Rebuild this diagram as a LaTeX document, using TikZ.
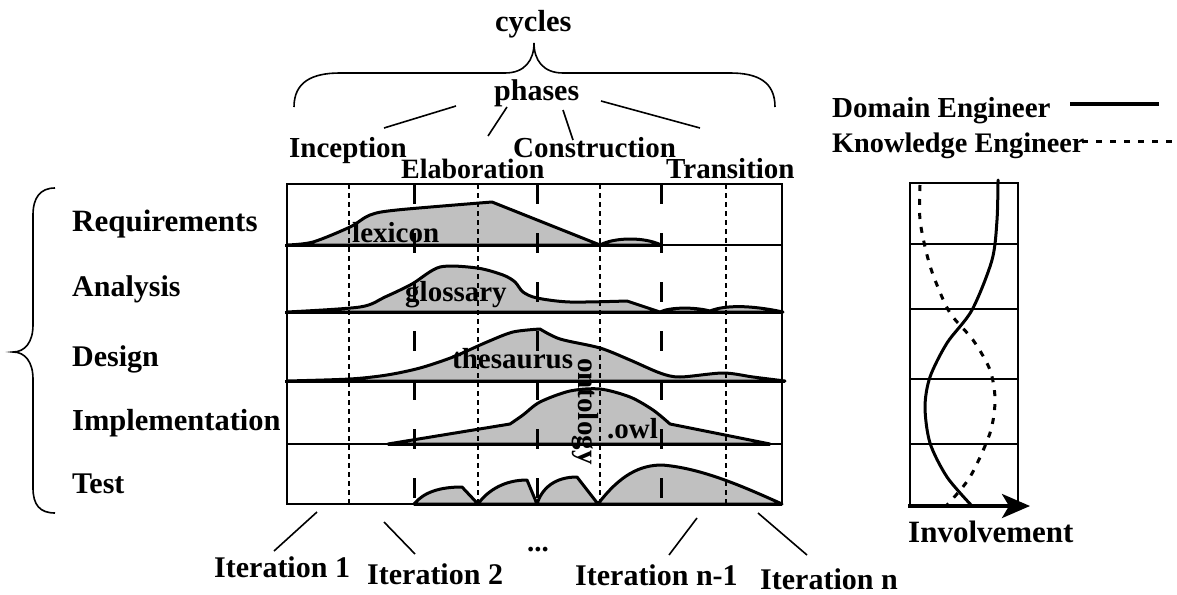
\documentclass[tikz,border=0pt]{standalone}
\usepackage{fontspec}
\setmainfont{Liberation Serif}
\usetikzlibrary{arrows.meta}
\definecolor{profgray}{RGB}{192,192,192}
\begin{document}
\begin{tikzpicture}[x=1pt,y=-1pt,
  fs/.style={font=\fontsize{#1}{#1}\selectfont\bfseries},
  lbl/.style={inner sep=0pt, anchor=base west, fs=29},
  thinln/.style={line width=1.4pt},
  prof/.style={line width=3pt, fill=profgray, line join=round},
  itdash/.style={line width=3pt, dash pattern=on 20pt off 29pt},
  itdot/.style={line width=1.3pt, dash pattern=on 4.5pt off 4.5pt},
  conn/.style={line width=1.6pt},
  brace/.style={line width=1.6pt},
  domline/.style={line width=3pt, line cap=round},
  knowline/.style={line width=3pt, dash pattern=on 6pt off 8pt},
]
\useasboundingbox (0,0) rectangle (1177,594);

% ---------- profiles ----------
% Requirements
\filldraw[prof] plot[smooth] coordinates {(287,245)(313,242)(350,227)(370,215)(397,210)(492,202)} -- (600,245) -- cycle;
\filldraw[prof] (600,245) .. controls (615,237) and (645,237) .. (661,245) -- cycle;
% Analysis
\filldraw[prof] plot[smooth] coordinates {(287,312)(360,307)(385,297)(412,284)(440,267)(477,268)(503,275)(515,282)(523,292)(537,298)(570,302)(627,301)} -- (660,312) .. controls (670,307) and (695,307) .. (710,311) .. controls (725,305) and (750,305) .. (783,312) -- cycle;
% Design
\filldraw[prof] plot[smooth] coordinates {(287,381)(350,379)(387,375)(420,368)(453,357)(487,342)(513,332)(540,329)} -- plot[smooth] coordinates {(540,329)(560,339)(600,348)(630,360)(660,373)(680,377)(723,373)(753,377)(785,381)} -- cycle;
% Implementation
\filldraw[prof] (388,444) -- plot[smooth] coordinates {(510,424)(523,415)(540,402)(570,391)(600,389)(630,397)(653,410)(670,424)} -- (700,430) -- (770,444) -- cycle;
% Test
\filldraw[prof] (414,504) .. controls (424,492) and (440,487) .. (462,487) -- (478,504) -- cycle;
\filldraw[prof] (478,504) .. controls (488,490) and (505,480) .. (527,480) -- (537,504) -- cycle;
\filldraw[prof] (537,504) .. controls (542,488) and (555,477) .. (577,477) -- (598,504) -- cycle;
\filldraw[prof] (598,504) .. controls (620,475) and (640,465) .. (662,465) .. controls (700,468) and (740,485) .. (782,504) -- cycle;

% ---------- grid ----------
\draw[thinln] (287,184) rectangle (782,504);
\foreach \yy in {245,312,381,444} {\draw[thinln] (287,\yy) -- (782,\yy);}
\draw[line width=3pt] (285,245) -- (661,245);
\draw[line width=3pt] (285,312) -- (783,312);
\draw[line width=3pt] (285,381) -- (785,381);
\draw[line width=3pt] (388,444) -- (770,444);
\draw[line width=3pt] (414,504) -- (782,504);
\foreach \xx in {349,478,600,726} {\draw[itdot] (\xx,184) -- (\xx,504);}
\foreach \xx in {414,537,661} {\draw[itdash] (\xx,184) -- (\xx,504);}

% ---------- labels inside chart ----------
\node[lbl] (lex) at (352,242) {lexicon};
\node[lbl] (glo) at (405,301) {glossary};
\node[lbl] (the) at (452,368) {thesaurus};
\node[lbl] (owl) at (607,438) {.owl};
\node[lbl, rotate=-90] (ont) at (578,358) {ontology};

% ---------- row labels ----------
\node[lbl, fs=31] (req) at (72,231) {Requirements};
\node[lbl, fs=30] (ana) at (72,296) {Analysis};
\node[lbl, fs=30] (des) at (72,366) {Design};
\node[lbl, fs=30.5] (imp) at (72,430) {Implementation};
\node[lbl, fs=30] (tst) at (72,493) {Test};
\draw[brace] (55,188) .. controls (40,188) and (33,198) .. (33,215) -- (33,325) .. controls (33,342) and (25,352) .. (13,352) .. controls (25,352) and (33,362) .. (33,379) -- (33,488) .. controls (33,505) and (40,513) .. (55,513);

% ---------- top ----------
\node[lbl, fs=30.5] (cyc) at (495,32) {cycles};
\draw[brace] (294,107) .. controls (294,82) and (312,73) .. (340,73) -- (505,73) .. controls (525,73) and (534,60) .. (534,43) .. controls (534,60) and (543,73) .. (563,73) -- (730,73) .. controls (758,73) and (775,82) .. (775,107);
\node[lbl, fs=30] (pha) at (494,100) {phases};
\node[lbl] (inc) at (289,157) {Inception};
\node[lbl, fs=28] (ela) at (401,178) {Elaboration};
\node[lbl] (con) at (513,157) {Construction};
\node[lbl] (tra) at (666,178) {Transition};
\coordinate (p1a) at (456,106); \coordinate (p1b) at (384,128);
\coordinate (p2a) at (507,107); \coordinate (p2b) at (488,136);
\coordinate (p3a) at (563,110); \coordinate (p3b) at (573,140);
\coordinate (p4a) at (601,101); \coordinate (p4b) at (700,128);
\draw[conn] (p1a) -- (p1b);
\draw[conn] (p2a) -- (p2b);
\draw[conn] (p3a) -- (p3b);
\draw[conn] (p4a) -- (p4b);

% ---------- bottom ----------
\node[lbl, fs=30] (it1) at (214,577) {Iteration 1};
\node[lbl, fs=30] (it2) at (367,584) {Iteration 2};
\node[lbl] (dots) at (527,551) {...};
\node[lbl, fs=30] (itn1) at (575,585) {Iteration n-1};
\node[lbl, fs=30] (itn) at (760,589) {Iteration n};
\coordinate (b1a) at (317,512); \coordinate (b1b) at (274,551);
\coordinate (b2a) at (384,522); \coordinate (b2b) at (415,554);
\coordinate (b3a) at (697,518); \coordinate (b3b) at (669,555);
\coordinate (b4a) at (758,513); \coordinate (b4b) at (807,555);
\draw[conn] (b1a) -- (b1b);
\draw[conn] (b2a) -- (b2b);
\draw[conn] (b3a) -- (b3b);
\draw[conn] (b4a) -- (b4b);

% ---------- right panel ----------
\node[lbl] (dom) at (832,117) {Domain Engineer};
\node[lbl, fs=28.3] (kno) at (832,152) {Knowledge Engineer};
\coordinate (d1) at (1070,104); \coordinate (d2) at (1159,104);
\coordinate (k1) at (1082,141); \coordinate (k2) at (1172,141);
\draw[line width=3.5pt] (d1) -- (d2);
\draw[knowline] (k1) -- (k2);

\draw[thinln] (910,183) rectangle (1018,506);
\foreach \yy in {244,309,379,444} {\draw[thinln] (910,\yy) -- (1018,\yy);}
\draw[domline] plot[smooth] coordinates {(998,180)(997,220)(992,260)(972,310)(947,343)(930,377)(925,407)(930,443)(947,477)(972,506)};
\draw[knowline] plot[smooth] coordinates {(920,185)(920,220)(927,255)(935,280)(950,313)(973,340)(990,370)(995,400)(990,433)(970,477)(947,505)};
\coordinate (ax1) at (908,506); \coordinate (ax2) at (1030,506);
\draw[line width=3.5pt, -{Stealth[length=28pt,width=24pt,inset=7pt]}] (ax1) -- (ax2);
\node[lbl, fs=31] (inv) at (908,542) {Involvement};
\end{tikzpicture}
\end{document}
